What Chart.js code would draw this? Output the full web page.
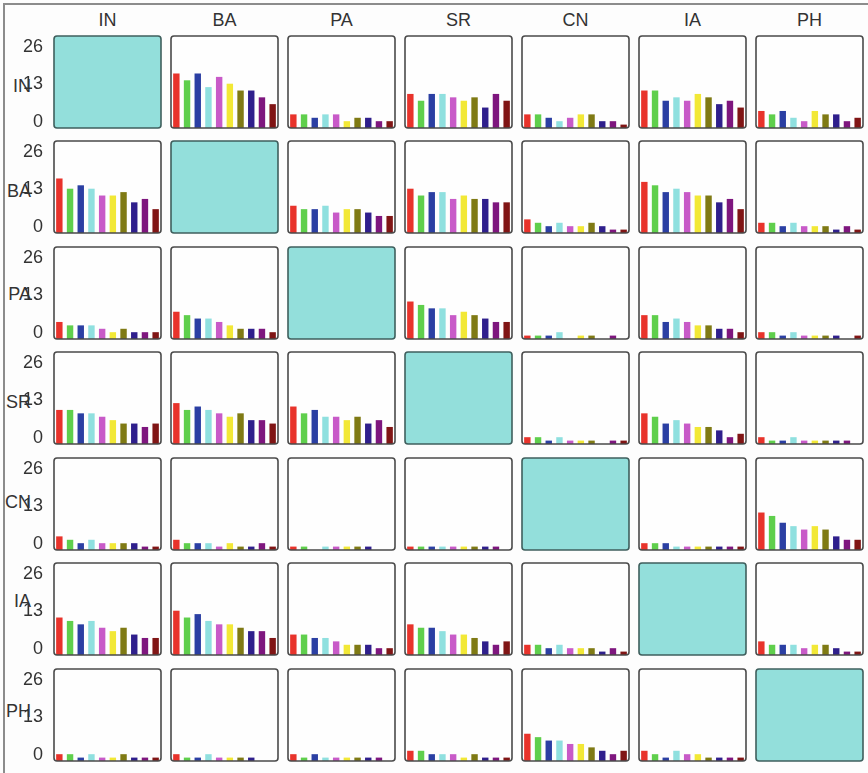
<!DOCTYPE html>
<html>
<head>
<meta charset="utf-8">
<script src="https://cdn.jsdelivr.net/npm/chart.js@4/dist/chart.umd.min.js"></script>
<style>
  body { margin: 0; background: #fdfdfd; }
  #page { position: relative; width: 868px; height: 773px; overflow: hidden; }
  #frame { position: absolute; left: 3px; top: 3px; width: 880px; height: 790px;
           border-left: 2px solid #8c8c8c; border-top: 2px solid #8c8c8c; }
  canvas { position: absolute; }
  .head, .side { position: absolute; font-family: "Liberation Sans", Arial, sans-serif;
                 font-size: 18px; color: #333; line-height: 20px; }
  .head { text-align: center; }
  .side { text-align: right; width: 31px; left: 0; }
</style>
</head>
<body>
<div id="page"><div id="frame"></div></div>
<script>
const speakers = ["IN", "BA", "PA", "SR", "CN", "IA", "PH"];
const groups = ["1", "2", "3", "4", "5", "6", "7", "8", "9", "10"];
const tickLabels = [0, 13, 26];
const barColors = ["#e8332b", "#5fcf4c", "#2b3fa3", "#8fe0df", "#c85ac8",
                   "#f2e836", "#7f7a14", "#2f1f8c", "#7e167e", "#801515"];

// one row per speaker, one list of counts per column (null on the diagonal)
const IN = [null,
  [16, 14, 16, 12, 15, 13, 11, 11, 9, 7],
  [4, 4, 3, 4, 4, 2, 3, 3, 2, 2],
  [10, 8, 10, 10, 9, 8, 9, 6, 10, 8],
  [4, 4, 3, 2, 3, 4, 4, 2, 2, 1],
  [11, 11, 8, 9, 8, 10, 9, 7, 8, 6],
  [5, 4, 5, 3, 2, 5, 4, 4, 2, 3]];
const BA = [
  [16, 13, 14, 13, 11, 11, 12, 9, 10, 7],
  null,
  [8, 7, 7, 8, 6, 7, 7, 6, 5, 5],
  [13, 11, 12, 12, 10, 11, 10, 10, 9, 9],
  [4, 3, 2, 3, 2, 2, 3, 2, 1, 1],
  [15, 14, 12, 13, 12, 11, 11, 9, 10, 7],
  [3, 3, 2, 3, 2, 2, 2, 1, 2, 1]];
const PA = [
  [5, 4, 4, 4, 3, 2, 3, 2, 2, 2],
  [8, 7, 6, 6, 5, 4, 3, 3, 3, 2],
  null,
  [11, 10, 9, 9, 7, 8, 7, 6, 5, 5],
  [1, 1, 1, 2, 0, 1, 1, 0, 1, 0],
  [7, 7, 5, 6, 5, 4, 4, 3, 3, 2],
  [2, 2, 1, 2, 1, 1, 1, 1, 0, 1]];
const SR = [
  [10, 10, 9, 9, 8, 7, 6, 6, 5, 6],
  [12, 10, 11, 10, 9, 8, 9, 7, 7, 6],
  [11, 9, 10, 8, 8, 7, 8, 6, 7, 5],
  null,
  [2, 2, 1, 2, 1, 1, 1, 0, 1, 1],
  [9, 8, 6, 7, 6, 5, 5, 4, 2, 3],
  [2, 1, 1, 2, 1, 1, 1, 1, 1, 0]];
const CN = [
  [4, 3, 2, 3, 2, 2, 2, 2, 1, 1],
  [3, 2, 2, 2, 1, 2, 1, 1, 2, 1],
  [1, 1, 0, 1, 1, 1, 1, 1, 0, 0],
  [1, 1, 1, 1, 1, 1, 1, 1, 1, 0],
  null,
  [2, 2, 2, 1, 1, 1, 1, 1, 1, 1],
  [11, 10, 8, 7, 6, 7, 6, 4, 3, 3]];
const IA = [
  [11, 10, 9, 10, 8, 7, 8, 6, 5, 5],
  [13, 11, 12, 10, 9, 9, 8, 7, 7, 5],
  [6, 6, 5, 5, 4, 3, 3, 3, 2, 2],
  [9, 8, 8, 7, 6, 6, 5, 4, 3, 4],
  [3, 3, 2, 3, 2, 2, 2, 1, 2, 1],
  null,
  [4, 3, 3, 3, 2, 3, 3, 2, 1, 1]];
const PH = [
  [2, 2, 1, 2, 1, 1, 2, 1, 1, 1],
  [2, 1, 1, 2, 1, 1, 1, 1, 0, 0],
  [2, 1, 2, 1, 1, 1, 1, 1, 1, 0],
  [3, 3, 2, 2, 2, 1, 2, 1, 1, 1],
  [8, 7, 6, 6, 5, 5, 4, 3, 2, 3],
  [3, 2, 1, 3, 2, 2, 1, 1, 1, 1],
  null];
const rowsData = [IN, BA, PA, SR, CN, IA, PH];

// grid geometry
const colLeft = [54, 171, 288, 405, 522, 639, 756];
const rowTop = [36, 141, 247, 352, 458, 563, 669];
const cellW = 107, cellH = 92, pad = 2, axisW = 46;
const sideOffset = [50, 50, 47, 50, 44, 38, 42];

// white panel with a dark frame, teal on the diagonal
const cellFrame = {
  id: "cellFrame",
  beforeDraw(chart, args, opts) {
    const { ctx, chartArea: a } = chart;
    ctx.save();
    ctx.fillStyle = opts.diag ? "#93dfdb" : "#fefefe";
    ctx.beginPath();
    ctx.roundRect(a.left, a.top, a.width, a.height, 3);
    ctx.fill();
    ctx.restore();
  },
  afterDraw(chart, args, opts) {
    const { ctx, chartArea: a } = chart;
    ctx.save();
    ctx.strokeStyle = opts.diag ? "#3f5f5d" : "#4a4a4a";
    ctx.lineWidth = 1.6;
    ctx.beginPath();
    ctx.roundRect(a.left, a.top, a.width, a.height, 3);
    ctx.stroke();
    ctx.restore();
  }
};

const page = document.getElementById("page");
const font = { family: "'Liberation Sans', Arial, sans-serif", size: 18 };

speakers.forEach((name, c) => {
  const h = document.createElement("div");
  h.className = "head";
  h.textContent = name;
  h.style.left = colLeft[c] + "px";
  h.style.width = cellW + "px";
  h.style.top = "10px";
  page.appendChild(h);
});

speakers.forEach((name, r) => {
  const s = document.createElement("div");
  s.className = "side";
  s.textContent = name;
  s.style.top = (rowTop[r] + sideOffset[r] - 10) + "px";
  page.appendChild(s);

  speakers.forEach((_, c) => {
    const vals = rowsData[r][c];
    const extra = c === 0 ? axisW : 0;
    const cv = document.createElement("canvas");
    cv.width = cellW + pad * 2 + extra;
    cv.height = cellH + pad * 2;
    cv.style.left = (colLeft[c] - pad - extra) + "px";
    cv.style.top = (rowTop[r] - pad) + "px";
    page.appendChild(cv);

    const scales = {
      x: { display: false },
      y: { display: false, min: 0, max: 27 }
    };
    if (c === 0) {
      scales.yl = {
        type: "linear",
        position: "left",
        min: -2.08,
        max: 29.8,
        grid: { display: false },
        border: { display: false },
        afterBuildTicks: s => { s.ticks = tickLabels.map(v => ({ value: v })); },
        afterFit: s => {
          s.width = axisW;
          s.paddingTop = 0;
          s.paddingBottom = 0;
        },
        ticks: { color: "#333", font, padding: 3, autoSkip: false }
      };
    }

    new Chart(cv, {
      type: "bar",
      data: {
        labels: groups,
        datasets: [{
          data: vals || [],
          backgroundColor: barColors,
          borderWidth: 0,
          barPercentage: 0.6,
          categoryPercentage: 1
        }]
      },
      options: {
        responsive: false,
        animation: false,
        events: [],
        layout: { padding: pad },
        plugins: {
          legend: { display: false },
          tooltip: { enabled: false },
          cellFrame: { diag: vals === null }
        },
        scales
      },
      plugins: [cellFrame]
    });
  });
});
</script>
</body>
</html>
